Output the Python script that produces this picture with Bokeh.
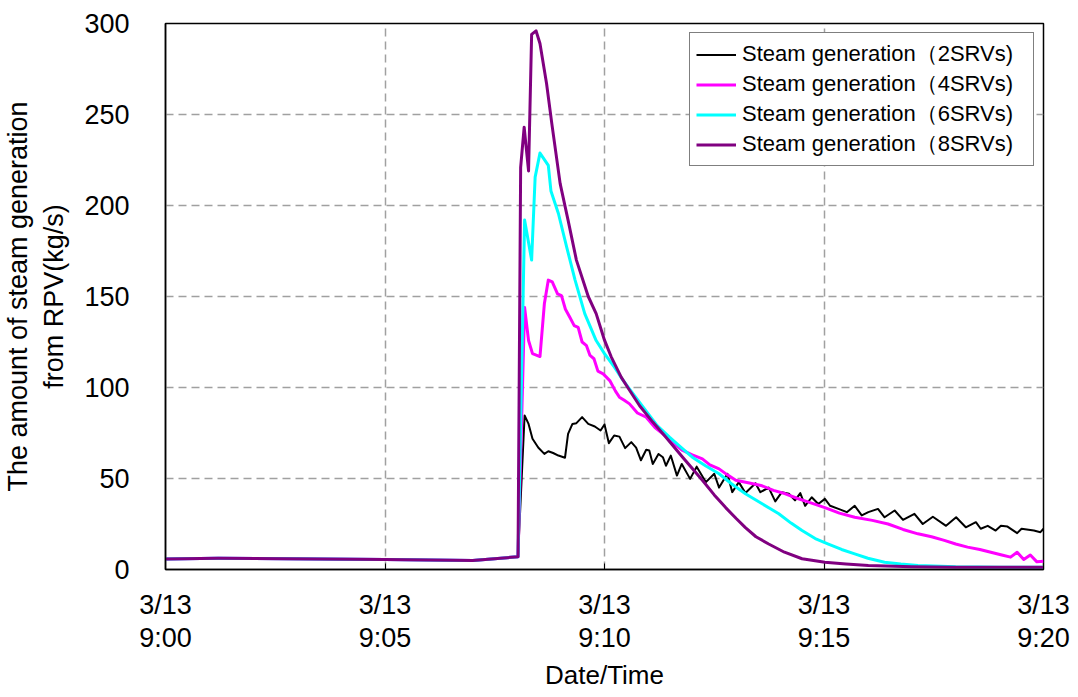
from bokeh.plotting import figure
from bokeh.models import LinearAxis, FixedTicker, Range1d, Legend, LegendItem
from bokeh.embed import file_html
from bokeh.resources import INLINE

# ---- data (minutes after 3/13 9:00, kg/s) ----
t_2srv = [0, 1.2, 5, 7, 8.03, 8.18, 8.27, 8.36, 8.49, 8.63, 8.72, 8.83, 8.95, 9.10, 9.17,
          9.27, 9.36, 9.49, 9.63, 9.78, 9.91, 10.00, 10.10, 10.22, 10.34, 10.47, 10.61,
          10.72, 10.83, 10.95, 11.02, 11.10, 11.23, 11.33, 11.40, 11.51, 11.65, 11.76,
          11.95, 12.10, 12.31, 12.50, 12.61, 12.80, 12.91, 13.06, 13.21, 13.44, 13.55,
          13.74, 13.89, 14.04, 14.20, 14.34, 14.46, 14.57, 14.72, 14.87, 15.02, 15.14,
          15.33, 15.52, 15.70, 15.86, 16.01, 16.23, 16.38, 16.61, 16.80, 17.06, 17.25,
          17.48, 17.78, 18.01, 18.23, 18.46, 18.57, 18.73, 18.91, 19.03, 19.18, 19.40,
          19.50, 19.78, 19.93, 20.0]
v_2srv = [5.8, 6.2, 5.5, 5.0, 7.0, 84.6, 80, 71.8, 67, 63.5, 65, 64, 62.6, 61.4, 74.5,
          80, 80.4, 83.7, 80, 78.6, 76.4, 79.7, 69.4, 73.6, 73, 66.7, 70,
          67, 60, 65.8, 65.4, 58, 63.5, 61.7, 57, 62.6, 51.6, 58,
          49.8, 56.5, 48, 52.6, 45, 52.6, 42.5, 48, 42, 47.4, 42.5,
          45, 37.4, 42.5, 41.6, 38, 42, 35, 39.7, 36, 38.8, 35,
          33.3, 31.5, 35, 29.7, 31.5, 33.3, 28.7, 32.4, 27.3, 30.6, 25,
          29, 24, 28.7, 23.2, 26, 22.4, 24, 21.4, 24, 23.6, 20,
          22.4, 21.4, 20.5, 22.4]

t_4srv = [0, 1.2, 5, 7, 8.03, 8.18, 8.27, 8.36, 8.53, 8.63, 8.72, 8.81, 8.93, 9.02, 9.11,
          9.21, 9.31, 9.40, 9.49, 9.59, 9.67, 9.76, 9.85, 9.97, 10.12, 10.25, 10.34,
          10.45, 10.57, 10.75, 10.95, 11.15, 11.33, 11.55, 11.78, 12.00, 12.23, 12.40,
          12.61, 12.80, 12.99, 13.30, 13.59, 13.85, 14.12, 14.40, 14.65, 15.02, 15.35,
          15.70, 16.10, 16.46, 16.80, 17.14, 17.45, 17.74, 18.00, 18.27, 18.55, 18.80,
          19.05, 19.25, 19.40, 19.55, 19.70, 19.85, 20.0]
v_4srv = [5.8, 6.2, 5.5, 5.0, 7.0, 144, 125.8, 118.6, 117, 146, 159, 158, 151.5, 150.5, 143,
          138.6, 134, 133, 125, 123, 117.6, 115.8, 109, 107.5, 103.8, 98, 94.7,
          93, 91, 86, 83.7, 78, 74.5, 70, 65.4, 63, 60.8, 57.5,
          55.3, 52, 49, 47.5, 46, 43.5, 41.6, 39, 37, 34, 31,
          28.7, 27, 25, 22, 19.6, 18, 16, 14, 12.3, 11, 9.5,
          8, 6.8, 9.5, 5.5, 8.0, 4.2, 4.5]

t_6srv = [0, 1.2, 5, 7, 8.03, 8.18, 8.34, 8.42, 8.53, 8.72, 8.78, 8.95, 9.14, 9.33, 9.55,
          9.81, 10.00, 10.23, 10.42, 10.70, 10.95, 11.20, 11.48, 11.75, 12.00, 12.30,
          12.61, 12.90, 13.21, 13.60, 13.97, 14.25, 14.50, 14.80, 15.10, 15.40, 15.70,
          16.00, 16.38, 16.75, 17.14, 18.0, 19.0, 20.0]
v_6srv = [5.8, 6.2, 5.5, 5.0, 7.0, 192, 170, 215.6, 228.8, 222, 208, 195.6, 177, 159, 140.6,
          125.8, 118.6, 111, 104, 95, 87, 79, 72.7, 67, 61.7, 57,
          52.6, 47, 41.6, 36, 30.6, 25.5, 21.4, 17, 14, 11, 8.6,
          6.2, 4, 3, 2.2, 1.5, 1.3, 1.2]

t_8srv = [0, 1.2, 5, 7, 8.03, 8.09, 8.17, 8.27, 8.34, 8.44, 8.53, 8.68, 8.80, 8.99, 9.17,
          9.36, 9.63, 9.81, 10.00, 10.15, 10.38, 10.53, 10.80, 11.10, 11.40, 11.78,
          12.23, 12.50, 12.76, 13.00, 13.21, 13.45, 13.74, 14.10, 14.50, 15.02, 15.50,
          16.01, 17.0, 18.0, 20.0]
v_8srv = [5.8, 6.2, 5.5, 5.0, 7.0, 221, 243, 219, 294, 296, 289, 267, 245, 212, 192,
          170, 150, 140.6, 126, 117, 105.7, 100, 90, 81, 72.7, 61.7,
          49, 41, 34, 28, 23, 18, 14, 9.5, 5.9, 4, 3,
          2.2, 1.5, 1.3, 1.2]

series_labels = ["Steam generation\uff082SRVs)", "Steam generation\uff084SRVs)",
                 "Steam generation\uff086SRVs)", "Steam generation\uff088SRVs)"]
series_colors = ["#000000", "#ff00ff", "#00ffff", "#800080"]
series_widths = [2, 3, 3, 3]

x_ticks = [0, 5, 10, 15, 20]
date_labels = ["3/13", "3/13", "3/13", "3/13", "3/13"]
time_labels = ["9:00", "9:05", "9:10", "9:15", "9:20"]
y_ticks = [0, 50, 100, 150, 200, 250, 300]

FONT = "Liberation Sans"
FS = "27px"

p = figure(width=1070, height=697, output_backend="svg", toolbar_location=None,
           x_range=Range1d(0, 20), y_range=Range1d(0, 300),
           min_border_left=160, min_border_right=27, min_border_top=23,
           min_border_bottom=128)
p.background_fill_color = "white"
p.border_fill_color = "white"
p.outline_line_color = "#000000"
p.outline_line_width = 1.5

# y axis
ya = p.yaxis[0]
ya.ticker = FixedTicker(ticks=y_ticks)
ya.major_tick_line_color = None
ya.minor_tick_line_color = None
ya.axis_line_color = "#000000"
ya.axis_line_width = 1.5
ya.major_label_text_font = FONT
ya.major_label_text_font_size = FS
ya.major_label_text_color = "#000000"
ya.major_label_standoff = 30
ya.axis_label = "The amount of steam generation\nfrom RPV(kg/s)"
ya.axis_label_text_font = FONT
ya.axis_label_text_font_size = FS
ya.axis_label_text_font_style = "normal"
ya.axis_label_text_color = "#000000"
ya.axis_label_standoff = 12

# x axis: date line
xa = p.xaxis[0]
xa.ticker = FixedTicker(ticks=x_ticks)
xa.major_label_overrides = {t: d for t, d in zip(x_ticks, date_labels)}
xa.major_tick_in = 6
xa.major_tick_out = 0
xa.major_tick_line_color = "#000000"
xa.minor_tick_line_color = None
xa.axis_line_color = "#000000"
xa.axis_line_width = 1.5
xa.major_label_text_font = FONT
xa.major_label_text_font_size = FS
xa.major_label_text_color = "#000000"
xa.major_label_standoff = 20

# x axis: time line
xa2 = LinearAxis(ticker=FixedTicker(ticks=x_ticks),
                 major_label_overrides={t: s for t, s in zip(x_ticks, time_labels)})
xa2.axis_line_color = None
xa2.major_tick_line_color = None
xa2.minor_tick_line_color = None
xa2.major_tick_in = 0
xa2.major_tick_out = 0
xa2.major_label_text_font = FONT
xa2.major_label_text_font_size = FS
xa2.major_label_text_color = "#000000"
xa2.major_label_standoff = 0
xa2.axis_label = "Date/Time"
xa2.axis_label_text_font = FONT
xa2.axis_label_text_font_size = "26px"
xa2.axis_label_text_font_style = "normal"
xa2.axis_label_text_color = "#000000"
xa2.axis_label_standoff = 4
p.add_layout(xa2, "below")

# grids
p.xgrid.ticker = FixedTicker(ticks=x_ticks)
p.ygrid.ticker = FixedTicker(ticks=y_ticks)
for g in (p.xgrid[0], p.ygrid[0]):
    g.grid_line_color = "#a0a0a0"
    g.grid_line_dash = "8 5"
    g.grid_line_width = 1.5

# lines
data = [(t_2srv, v_2srv), (t_4srv, v_4srv), (t_6srv, v_6srv), (t_8srv, v_8srv)]
items = []
for (tt, vv), lab, col, lw in zip(data, series_labels, series_colors, series_widths):
    r = p.line(tt, vv, line_color=col, line_width=lw, line_join="round")
    items.append(LegendItem(label=lab, renderers=[r]))

leg = Legend(items=items, location="top_right")
leg.margin = 9
leg.padding = 6
leg.spacing = 0
leg.glyph_width = 40
leg.glyph_height = 29
leg.label_height = 29
leg.label_standoff = 6
leg.label_width = 285
leg.label_text_font = FONT
leg.label_text_font_size = "22px"
leg.label_text_color = "#000000"
leg.border_line_color = "#000000"
leg.border_line_width = 1
leg.background_fill_color = "white"
leg.background_fill_alpha = 1
p.add_layout(leg)

open("out.html", "w").write(file_html(p, INLINE))
